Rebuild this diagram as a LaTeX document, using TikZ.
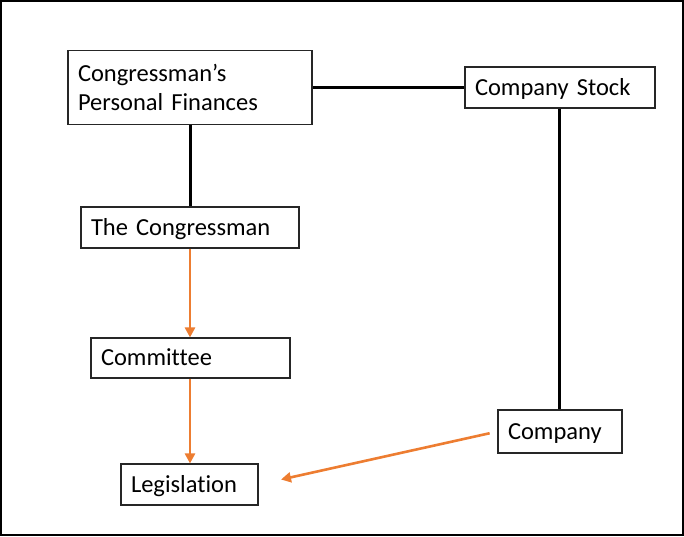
\documentclass[tikz,border=0pt]{standalone}
\usepackage{fontspec}
\setmainfont{Carlito}[Ligatures=NoCommon]
\usetikzlibrary{arrows.meta}
\definecolor{orangeline}{HTML}{ED7D31}
\begin{document}
\begin{tikzpicture}[x=1pt,y=-1pt,
  box/.style={draw=black!85, line width=1.1pt, rectangle, inner xsep=10pt, inner ysep=0pt,
    align=left, font=\fontsize{24.5}{29.5}\selectfont, anchor=center},
  oneline/.style={text height=20.5pt, text depth=5.3pt},
  blackline/.style={draw=black, line width=3pt},
  orangearrow/.style={draw=orangeline, line width=2.6pt, -{Triangle[length=10pt,width=10pt]}}]
\useasboundingbox (0,0) rectangle (684,536);
\draw[line width=2pt] (1,1) rectangle (683,535);
\node[box, minimum width=244pt, minimum height=74pt, text width=224pt] (pf) at (190,87.5) {Congressman’s\\Personal Finances};
\node[box, oneline, minimum width=190pt, minimum height=41pt, text width=170pt] (cs) at (560,87.5) {Company Stock};
\node[box, oneline, minimum width=218pt, minimum height=41pt, text width=198pt] (tc) at (190,227.5) {The Congressman};
\node[box, oneline, minimum width=199pt, minimum height=40pt, text width=179pt] (cm) at (190.5,358) {Committee};
\node[box, oneline, minimum width=137pt, minimum height=41pt, text width=117pt] (lg) at (189.5,484.5) {Legislation};
\node[box, oneline, minimum width=124pt, minimum height=43pt, text width=104pt] (co) at (560,431.5) {Company};
\draw[blackline] (pf.east) -- (cs.west);
\draw[blackline] (pf.south) -- (pf.south |- tc.north);
\draw[blackline] ([xshift=-1pt]cs.south) -- ([xshift=-1pt]co.north);
\draw[orangearrow] (tc.south) -- (tc.south |- cm.north);
\draw[orangearrow] (tc.south |- cm.south) -- (tc.south |- lg.north);
\draw[orangearrow, shorten <=8pt, shorten >=23pt] (co.west) -- (lg.east);
\end{tikzpicture}
\end{document}
